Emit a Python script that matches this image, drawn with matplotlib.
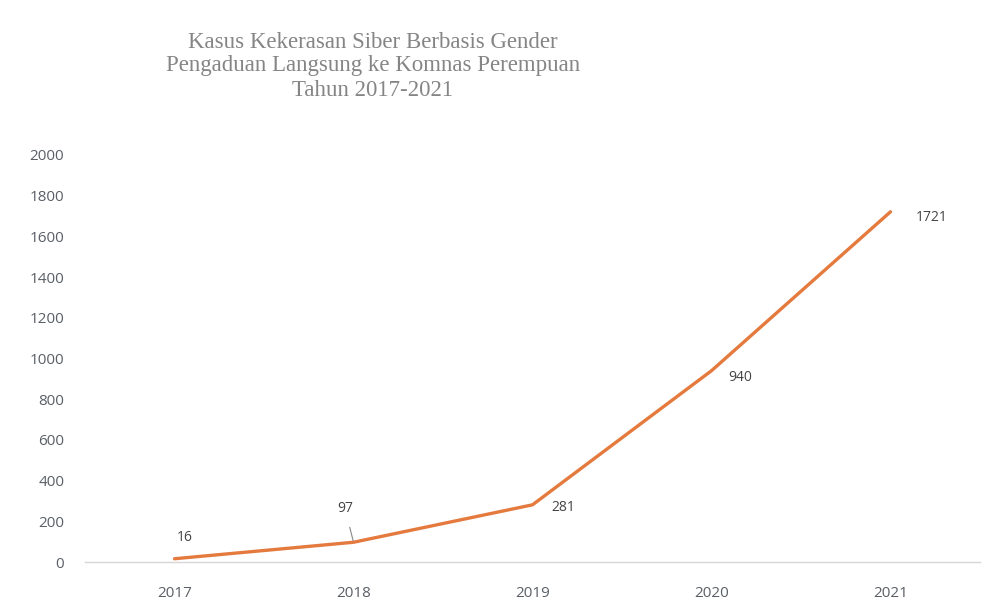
import matplotlib
matplotlib.use("Agg")
import matplotlib.pyplot as plt

years = ["2017", "2018", "2019", "2020", "2021"]
values = [16, 97, 281, 940, 1721]
yticks = [0, 200, 400, 600, 800, 1000, 1200, 1400, 1600, 1800, 2000]
title_lines = ["Kasus Kekerasan Siber Berbasis Gender",
               "Pengaduan Langsung ke Komnas Perempuan",
               "Tahun 2017-2021"]

fig = plt.figure(figsize=(9.9, 6.13), dpi=100)
ax = fig.add_axes([85/990, 51/613, 895/990, 407/613])

x = list(range(len(years)))
ax.plot(x, values, color="#E47A3E", linewidth=2.4, solid_capstyle="round")

ax.set_xlim(-0.5, len(years) - 0.5)
ax.set_ylim(0, 2000)
ax.set_yticks(yticks)
ax.set_xticks(x)
ax.set_xticklabels(years)
ax.tick_params(axis="both", length=0, labelsize=11, colors="#5a5f66")
ax.tick_params(axis="y", pad=15)
ax.tick_params(axis="x", pad=17)
for lab in ax.get_xticklabels() + ax.get_yticklabels():
    lab.set_fontfamily("Open Sans")
for s in ["top", "right", "left"]:
    ax.spines[s].set_visible(False)
ax.spines["bottom"].set_color("#d6d6d6")
ax.spines["bottom"].set_linewidth(1)

lab_kw = dict(fontsize=10, color="#444444", family="Open Sans")
# offsets in points
offsets = [(7, 15), (-6, 24), (22, -2), (21, -5), (30, -4)]
for i, v in enumerate(values):
    dx, dy = offsets[i]
    if i == 1:
        ax.annotate(str(v), (i, v), xytext=(dx, dy), textcoords="offset points",
                    ha="center", va="center", **lab_kw,
                    arrowprops=dict(arrowstyle="-", color="#888888", lw=0.8,
                                    shrinkA=6, shrinkB=1))
    else:
        ax.annotate(str(v), (i, v), xytext=(dx, dy), textcoords="offset points",
                    ha="center", va="center", **lab_kw)

for k, t in enumerate(title_lines):
    fig.text(373/990, 1 - (42 + 24*k)/613, t, ha="center", va="center",
             fontsize=16.5, color="#858585", family="Liberation Serif")

fig.savefig("out.png", dpi=100, facecolor="white")
